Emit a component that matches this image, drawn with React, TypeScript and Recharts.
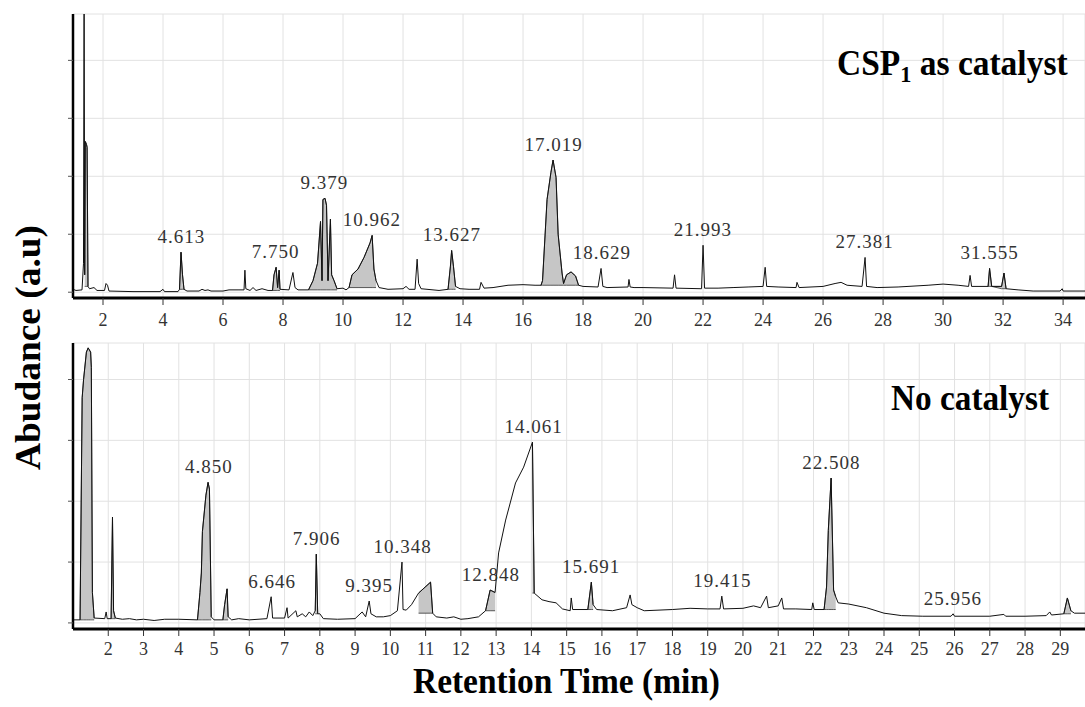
import React from 'react';
import { ComposedChart, Line, Area, XAxis, YAxis, CartesianGrid, ReferenceDot } from 'recharts';

// retention time (min), abundance (a.u)
const cspTrace: [number, number][] = [
  [1.0, 0.05], [1.1, 0.03], [1.3, 0.04], [1.35, 0.5], [1.37, 5.6], [1.39, 0.3], [1.41, 2.6], [1.45, 2.55],
  [1.47, 2.5], [1.5, 0.1], [1.55, 0.06], [1.7, 0.08], [1.8, 0.03], [2.05, 0.03], [2.1, 0.15], [2.15, 0.12],
  [2.2, 0.02], [3.0, 0.01], [3.9, 0.01], [4.0, 0.05], [4.05, 0.01], [4.5, 0.01], [4.55, 0.05], [4.6, 0.69],
  [4.65, 0.3], [4.7, 0.05], [4.8, 0.02], [5.2, 0.02], [5.3, 0.05], [5.4, 0.03], [5.5, 0.04], [5.6, 0.02],
  [6.0, 0.02], [6.2, 0.04], [6.5, 0.04], [6.7, 0.04], [6.73, 0.38], [6.76, 0.06], [6.9, 0.03], [7.0, 0.08],
  [7.1, 0.03], [7.3, 0.06], [7.5, 0.03], [7.65, 0.03], [7.7, 0.3], [7.77, 0.43], [7.82, 0.08], [7.87, 0.38],
  [7.9, 0.05], [8.2, 0.04], [8.33, 0.34], [8.4, 0.08], [8.5, 0.04], [8.85, 0.04], [9.0, 0.2], [9.15, 0.5],
  [9.25, 1.22], [9.3, 0.2], [9.33, 1.6], [9.4, 1.62], [9.45, 1.5], [9.5, 0.2], [9.58, 1.26], [9.62, 0.3],
  [9.7, 0.2], [9.8, 0.06], [10.0, 0.07], [10.1, 0.04], [10.2, 0.08], [10.3, 0.3], [10.5, 0.4], [10.7, 0.6],
  [10.9, 0.85], [10.97, 0.98], [11.03, 0.4], [11.1, 0.2], [11.2, 0.08], [11.5, 0.05], [12.0, 0.06], [12.1, 0.1],
  [12.2, 0.05], [12.4, 0.05], [12.47, 0.57], [12.52, 0.15], [12.6, 0.06], [13.2, 0.03], [13.5, 0.05], [13.58, 0.45],
  [13.62, 0.72], [13.68, 0.45], [13.75, 0.1], [13.9, 0.06], [14.2, 0.05], [14.55, 0.05], [14.6, 0.17], [14.7, 0.07],
  [15.0, 0.08], [15.5, 0.12], [16.0, 0.13], [16.4, 0.12], [16.6, 0.12], [16.65, 0.2], [16.8, 1.6], [16.93, 2.07],
  [17.0, 2.28], [17.1, 1.98], [17.17, 1.0], [17.3, 0.33], [17.35, 0.15], [17.45, 0.3], [17.6, 0.35], [17.75, 0.28],
  [17.85, 0.12], [18.0, 0.1], [18.5, 0.09], [18.6, 0.41], [18.66, 0.1], [18.8, 0.08], [19.5, 0.09], [19.53, 0.22],
  [19.57, 0.09], [19.7, 0.08], [20.0, 0.08], [21.0, 0.07], [21.05, 0.3], [21.1, 0.07], [21.95, 0.06], [22.0, 0.81],
  [22.05, 0.07], [22.5, 0.07], [23.0, 0.08], [23.5, 0.09], [24.0, 0.1], [24.07, 0.43], [24.12, 0.1], [24.5, 0.09],
  [25.1, 0.08], [25.13, 0.17], [25.2, 0.08], [26.0, 0.1], [26.4, 0.15], [26.6, 0.17], [26.8, 0.12], [27.3, 0.1],
  [27.4, 0.6], [27.45, 0.1], [27.8, 0.08], [28.5, 0.09], [29.5, 0.12], [30.0, 0.14], [30.5, 0.12], [30.85, 0.1],
  [30.9, 0.29], [30.95, 0.1], [31.5, 0.1], [31.55, 0.41], [31.62, 0.1], [31.95, 0.1], [32.03, 0.33], [32.1, 0.06],
  [32.5, 0.04], [33.0, 0.02], [33.9, 0.02], [33.97, 0.06], [34.0, 0.02], [34.8, 0.02],
];
const cspShaded: [number, number][] = [
  [1.39, 1.5], [4.55, 4.7], [7.65, 7.9], [8.85, 9.8], [10.2, 11.1], [13.5, 13.75], [16.6, 17.35], [17.35, 17.85],
  [31.5, 31.62], [31.95, 32.1],
];
const cspPeakLabels = ['4.613', '7.750', '9.379', '10.962', '13.627', '17.019', '18.629', '21.993', '27.381', '31.555'];
const cspPeakHeights = [0.69, 0.43, 1.62, 0.98, 0.72, 2.28, 0.41, 0.81, 0.6, 0.41];
const cspTicks = [2, 4, 6, 8, 10, 12, 14, 16, 18, 20, 22, 24, 26, 28, 30, 32, 34];

// retention time (min), abundance (a.u)
const noCatTrace: [number, number][] = [
  [1.0, 0.05], [1.2, 0.05], [1.26, 3.7], [1.3, 4.0], [1.38, 4.45], [1.43, 4.52], [1.5, 4.45], [1.52, 4.2],
  [1.55, 0.5], [1.6, 0.08], [1.9, 0.07], [1.94, 0.18], [1.97, 0.07], [2.08, 0.07], [2.12, 1.74], [2.15, 0.2],
  [2.2, 0.08], [2.4, 0.06], [2.6, 0.07], [2.8, 0.05], [3.0, 0.06], [3.3, 0.04], [3.6, 0.06], [4.0, 0.06],
  [4.53, 0.05], [4.6, 0.5], [4.64, 0.82], [4.67, 1.5], [4.77, 2.1], [4.83, 2.31], [4.87, 2.2], [4.92, 0.1],
  [5.0, 0.05], [5.25, 0.05], [5.3, 0.3], [5.37, 0.56], [5.4, 0.1], [5.5, 0.05], [5.7, 0.07], [6.0, 0.05],
  [6.5, 0.07], [6.62, 0.43], [6.66, 0.08], [7.0, 0.08], [7.07, 0.25], [7.1, 0.08], [7.32, 0.2], [7.36, 0.1],
  [7.5, 0.15], [7.6, 0.1], [7.7, 0.18], [7.8, 0.12], [7.87, 0.2], [7.9, 1.13], [7.94, 0.15], [8.0, 0.15],
  [8.1, 0.07], [8.5, 0.06], [9.0, 0.07], [9.2, 0.18], [9.3, 0.1], [9.4, 0.36], [9.45, 0.15], [9.6, 0.1],
  [9.8, 0.1], [10.0, 0.12], [10.2, 0.2], [10.33, 1.0], [10.36, 0.22], [10.45, 0.21], [10.6, 0.3], [10.8, 0.49],
  [11.14, 0.67], [11.2, 0.16], [11.3, 0.1], [11.6, 0.08], [11.8, 0.1], [12.0, 0.06], [12.2, 0.07], [12.5, 0.1],
  [12.7, 0.2], [12.83, 0.54], [12.97, 0.5], [13.07, 1.15], [13.27, 1.69], [13.55, 2.3], [13.78, 2.56], [14.03, 2.97],
  [14.08, 0.49], [14.3, 0.38], [14.5, 0.35], [14.7, 0.33], [14.88, 0.23], [15.1, 0.2], [15.13, 0.41], [15.17, 0.22],
  [15.6, 0.22], [15.7, 0.67], [15.75, 0.3], [15.85, 0.22], [16.3, 0.2], [16.7, 0.25], [16.8, 0.46], [16.85, 0.3],
  [17.0, 0.25], [17.2, 0.2], [18.0, 0.22], [18.5, 0.24], [19.0, 0.23], [19.35, 0.23], [19.4, 0.44], [19.45, 0.23],
  [20.0, 0.24], [20.3, 0.28], [20.5, 0.25], [20.67, 0.44], [20.72, 0.25], [21.0, 0.28], [21.1, 0.41], [21.15, 0.23],
  [21.5, 0.23], [21.95, 0.22], [21.98, 0.33], [22.02, 0.22], [22.3, 0.22], [22.37, 0.59], [22.42, 1.52], [22.5, 2.38],
  [22.57, 0.54], [22.63, 0.43], [22.7, 0.33], [23.0, 0.31], [23.5, 0.25], [24.0, 0.16], [24.5, 0.12], [25.1, 0.11],
  [25.9, 0.11], [25.96, 0.15], [26.0, 0.11], [27.0, 0.11], [27.4, 0.14], [27.45, 0.11], [28.0, 0.11], [28.6, 0.12],
  [28.7, 0.18], [28.75, 0.13], [29.1, 0.15], [29.2, 0.41], [29.3, 0.2], [29.4, 0.16], [29.8, 0.16],
];
const noCatShaded: [number, number][] = [
  [1.2, 1.6], [2.08, 2.2], [4.53, 4.92], [5.25, 5.4], [7.87, 7.94], [10.8, 11.2], [12.7, 12.97], [14.03, 14.08],
  [15.6, 15.75], [22.3, 22.63], [29.1, 29.3],
];
const noCatPeakLabels = ['4.850', '6.646', '7.906', '9.395', '10.348', '12.848', '14.061', '15.691', '19.415', '22.508', '25.956'];
const noCatPeakHeights = [2.31, 0.43, 1.13, 0.36, 1.0, 0.54, 2.97, 0.67, 0.44, 2.38, 0.15];
const noCatTicks = [2, 3, 4, 5, 6, 7, 8, 9, 10, 11, 12, 13, 14, 15, 16, 17, 18, 19, 20, 21, 22, 23, 24, 25, 26, 27, 28, 29];

const serif = '"Liberation Serif", "Times New Roman", serif';

function buildRows(trace: [number, number][], shaded: [number, number][]) {
  return trace.map(([t, v]) => {
    const iv = shaded.find(([a, b]) => t >= a && t <= b);
    if (!iv) return { t, v, shade: null };
    const inside = trace.filter(([s]) => s >= iv[0] && s <= iv[1]);
    const base = Math.min(inside[0][1], inside[inside.length - 1][1]);
    return { t, v, shade: [base, Math.max(v, base)] };
  });
}

function Chromatogram({ trace, shaded, labels, heights, ticks, xMax, yMax, height, margin, xAxisHeight, tickMargin }: any) {
  const rows = buildRows(trace, shaded);
  return (
    <ComposedChart width={1085} height={height} data={rows} margin={margin}>
      <CartesianGrid stroke="#e2e2e2" strokeWidth={1} />
      <XAxis
        dataKey="t"
        type="number"
        domain={[1, xMax]}
        ticks={ticks}
        allowDataOverflow
        height={xAxisHeight}
        axisLine={{ stroke: '#000', strokeWidth: 3 }}
        tickLine={{ stroke: '#333' }}
        tickSize={7}
        tickMargin={tickMargin}
        tick={{ fill: '#333', fontSize: 18, fontFamily: serif }}
      />
      <YAxis
        type="number"
        domain={[-0.1, yMax]}
        ticks={[0, 1, 2, 3, 4]}
        allowDataOverflow
        width={10}
        axisLine={{ stroke: '#000', strokeWidth: 2.5 }}
        tickLine={{ stroke: '#555' }}
        tickSize={5}
        tickFormatter={() => ''}
      />
      <Area
        dataKey="shade"
        type="linear"
        fill="#c6c6c6"
        fillOpacity={1}
        stroke="#333"
        strokeWidth={0.8}
        connectNulls={false}
        isAnimationActive={false}
      />
      <Line dataKey="v" type="linear" stroke="#111" strokeWidth={1} dot={false} isAnimationActive={false} />
      {labels.map((lab: string, i: number) => (
        <ReferenceDot
          key={lab}
          x={parseFloat(lab)}
          y={heights[i]}
          r={1}
          fill="none"
          stroke="none"
          label={{ value: lab, position: 'top', offset: 8, fill: '#333', fontSize: 19, fontFamily: serif, letterSpacing: 1 }}
        />
      ))}
    </ComposedChart>
  );
}

export default function App() {
  return (
    <div style={{ position: 'absolute', left: 0, top: 0, width: 1085, height: 707, background: '#fff', overflow: 'hidden' }}>
      <div style={{ position: 'absolute', left: 0, top: 0 }}>
        <Chromatogram
          trace={cspTrace}
          shaded={cspShaded}
          labels={cspPeakLabels}
          heights={cspPeakHeights}
          ticks={cspTicks}
          xMax={34.73}
          yMax={4.8}
          height={336}
          margin={{ top: 14, right: 0, bottom: 8, left: 63 }}
          xAxisHeight={30}
          tickMargin={8}
        />
      </div>
      <div style={{ position: 'absolute', left: 0, top: 336 }}>
        <Chromatogram
          trace={noCatTrace}
          shaded={noCatShaded}
          labels={noCatPeakLabels}
          heights={noCatPeakHeights}
          ticks={noCatTicks}
          xMax={29.7}
          yMax={4.6}
          height={371}
          margin={{ top: 7, right: 0, bottom: 38, left: 63 }}
          xAxisHeight={40}
          tickMargin={6}
        />
      </div>
      <svg width={1085} height={707} style={{ position: 'absolute', left: 0, top: 0, pointerEvents: 'none' }}>
        <text transform="translate(837, 75) scale(0.93, 1)" x={0} y={0} fontFamily={serif} fontWeight="bold" fontSize={36} fill="#000">
          CSP<tspan dy={7} fontSize={24}>1</tspan>
          <tspan dy={-7}> as catalyst</tspan>
        </text>
        <text x={891} y={410} fontFamily={serif} fontWeight="bold" fontSize={36} fill="#000" textLength={158} lengthAdjust="spacingAndGlyphs">
          No catalyst
        </text>
        <text x={413} y={693} fontFamily={serif} fontWeight="bold" fontSize={36} fill="#000" textLength={307} lengthAdjust="spacingAndGlyphs">
          Retention Time (min)
        </text>
        <text transform="translate(40, 470) rotate(-90)" x={0} y={0} fontFamily={serif} fontWeight="bold" fontSize={36} fill="#000" textLength={245} lengthAdjust="spacingAndGlyphs">
          Abudance (a.u)
        </text>
      </svg>
    </div>
  );
}
